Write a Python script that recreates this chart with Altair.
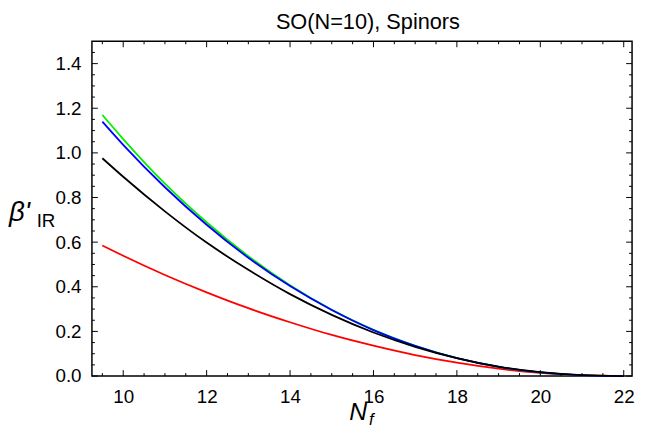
import altair as alt
import pandas as pd

# ---- data ----
nf = [9.5, 10, 11, 12, 13, 14, 15, 16, 17, 18, 19, 20, 21, 22]
beta_red = [0.585, 0.539, 0.453, 0.375, 0.304, 0.241, 0.184, 0.136, 0.094, 0.060, 0.033, 0.014, 0.0035, 0.0]
beta_black = [0.976, 0.893, 0.738, 0.598, 0.476, 0.367, 0.274, 0.195, 0.131, 0.080, 0.042, 0.0175, 0.0039, 0.0]
beta_blue = [1.140, 1.036, 0.846, 0.678, 0.530, 0.403, 0.296, 0.206, 0.135, 0.080, 0.041, 0.016, 0.0032, 0.0]
beta_green = [1.170, 1.062, 0.862, 0.689, 0.537, 0.407, 0.297, 0.207, 0.135, 0.080, 0.041, 0.016, 0.0032, 0.0]

x_labels = [10, 12, 14, 16, 18, 20, 22]
y_labels = [0.0, 0.2, 0.4, 0.6, 0.8, 1.0, 1.2, 1.4]
x_minor = [9.5, 10.5, 11, 11.5, 12.5, 13, 13.5, 14.5, 15, 15.5, 16.5, 17, 17.5,
           18.5, 19, 19.5, 20.5, 21, 21.5]
y_minor = [0.05, 0.1, 0.15, 0.25, 0.3, 0.35, 0.45, 0.5, 0.55, 0.65, 0.7, 0.75,
           0.85, 0.9, 0.95, 1.05, 1.1, 1.15, 1.25, 1.3, 1.35, 1.45]

title_text = "SO(N=10), Spinors"
ylab_main = "β'"
ylab_sub = "IR"
xlab_main = "N"
xlab_sub = "f"

W, H = 547, 339
FONT = "Liberation Sans"

xs = alt.Scale(domain=[9.25, 22.2], nice=False, zero=False)
ys = alt.Scale(domain=[0, 1.5], nice=False)

df = pd.DataFrame({"nf": nf, "red": beta_red, "black": beta_black,
                   "blue": beta_blue, "green": beta_green})


def line(col, color):
    return alt.Chart(df).mark_line(color=color, strokeWidth=1.8, interpolate="monotone").encode(
        x=alt.X("nf:Q", scale=xs,
                axis=alt.Axis(values=x_labels, title=None, ticks=False, tickSize=0, domain=False,
                              grid=False, labelFontSize=19, labelFont=FONT, labelColor="black",
                              labelPadding=12, format="d")),
        y=alt.Y(f"{col}:Q", scale=ys,
                axis=alt.Axis(values=y_labels, title=None, ticks=False, tickSize=0, domain=False,
                              grid=False, labelFontSize=19, labelFont=FONT, labelColor="black",
                              labelPadding=11, format=".1f")),
    )


layers = [line("red", "#ff0000"), line("green", "#00ee00"), line("blue", "#0000ff"),
          line("black", "#000000")]

# inward frame ticks
xmaj = pd.DataFrame({"v": x_labels})
xmin = pd.DataFrame({"v": x_minor})
ymaj = pd.DataFrame({"v": y_labels})
ymin = pd.DataFrame({"v": y_minor})


def xticks(d, ln):
    base = alt.Chart(d).mark_rule(color="black", strokeWidth=1)
    return [base.encode(x=alt.X("v:Q", scale=xs), y=alt.value(H), y2=alt.value(H - ln)),
            base.encode(x=alt.X("v:Q", scale=xs), y=alt.value(0), y2=alt.value(ln))]


def yticks(d, ln):
    base = alt.Chart(d).mark_rule(color="black", strokeWidth=1)
    return [base.encode(y=alt.Y("v:Q", scale=ys), x=alt.value(0), x2=alt.value(ln)),
            base.encode(y=alt.Y("v:Q", scale=ys), x=alt.value(W), x2=alt.value(W - ln))]


layers += xticks(xmaj, 6) + xticks(xmin, 3) + yticks(ymaj, 6) + yticks(ymin, 3)


def label(text, x, y, size, italic=False, align="center"):
    return alt.Chart(pd.DataFrame({"t": [text]})).mark_text(
        font=FONT, fontSize=size, fontStyle="italic" if italic else "normal",
        align=align, baseline="alphabetic", color="black").encode(
        x=alt.value(x), y=alt.value(y), text="t:N")


layers += [
    label(title_text, W / 2 + 6, -12, 22),
    label(ylab_main, -84, 182, 28, italic=True, align="left"),
    label(ylab_sub, -56, 188, 19, align="left"),
    label(xlab_main, W / 2 - 4, 45 + H, 25, italic=True, align="center"),
    label(xlab_sub, W / 2 + 7, 50 + H, 17, italic=True, align="left"),
]

chart = alt.layer(*layers).properties(
    width=W, height=H,
    autosize=alt.AutoSizeParams(type="none"),
    padding={"left": 85, "top": 31, "right": 5, "bottom": 58},
).configure_view(stroke="black", strokeWidth=1.5)

chart.save("out.html", embed_options={"renderer": "svg", "actions": False})
